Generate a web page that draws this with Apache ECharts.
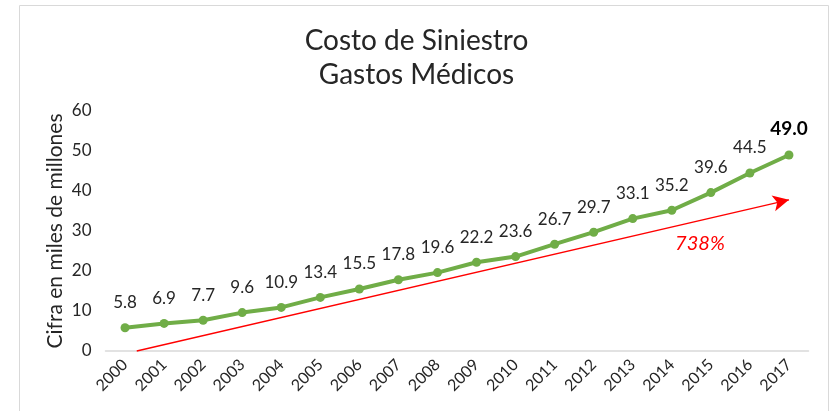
<!DOCTYPE html>
<html>
<head>
<meta charset="utf-8">
<script src="https://cdn.jsdelivr.net/npm/echarts@6/dist/echarts.min.js"></script>
<style>
  html, body { margin: 0; padding: 0; background: #fff; }
  #main { width: 833px; height: 411px; }
</style>
</head>
<body>
<div id="main"></div>
<script>
// años y costo (miles de millones)
var years = ['2000', '2001', '2002', '2003', '2004', '2005', '2006', '2007', '2008',
  '2009', '2010', '2011', '2012', '2013', '2014', '2015', '2016', '2017']
var costo = [5.8, 6.9, 7.7, 9.6, 10.9, 13.4, 15.5, 17.8, 19.6,
  22.2, 23.6, 26.7, 29.7, 33.1, 35.2, 39.6, 44.5, 49.0]
// flecha de crecimiento (índice de año, valor)
var flecha = [[0.3, 0], [17, 37.8]]
var crecimiento = '738%'
var crecimientoPos = [14.72, 26.8]

var font = 'Lato, "Open Sans", sans-serif'
var chart = echarts.init(document.getElementById('main'))

chart.setOption({
  animation: false,
  textStyle: { fontFamily: font },
  title: {
    text: 'Costo de Siniestro\nGastos Médicos',
    left: 'center',
    top: 19,
    textStyle: { fontFamily: font, fontSize: 28, fontWeight: 'normal', color: '#262626', lineHeight: 34 }
  },
  graphic: [{
    type: 'rect',
    shape: { x: 19.5, y: 5.5, width: 809, height: 430 },
    style: { fill: 'none', stroke: '#d9d9d9', lineWidth: 1 },
    silent: true
  }],
  grid: { left: 105.5, right: 24.5, top: 111, bottom: 60 },
  xAxis: [{
    type: 'category',
    data: years,
    axisLine: { lineStyle: { color: '#d9d9d9', width: 1.5 } },
    axisTick: { show: false },
    axisLabel: { rotate: 45, color: '#262626', fontSize: 16, fontFamily: font, margin: 11 }
  }, {
    type: 'value',
    min: -0.5,
    max: 17.5,
    show: false
  }],
  yAxis: {
    type: 'value',
    min: 0,
    max: 60,
    interval: 10,
    name: 'Cifra en miles de millones',
    nameLocation: 'middle',
    nameGap: 40,
    nameMoveOverlap: false,
    nameTextStyle: { fontSize: 21, color: '#262626', fontFamily: font },
    axisLine: { show: false },
    axisTick: { show: false },
    splitLine: { show: false },
    axisLabel: { color: '#262626', fontSize: 17, fontFamily: font, margin: 14 }
  },
  series: [{
    type: 'line',
    data: costo.map(function (v, i) {
      if (i === costo.length - 1) {
        return { value: v, label: { fontWeight: 'bold', fontSize: 19, color: '#000' } }
      }
      return v
    }),
    symbol: 'circle',
    symbolSize: 9,
    lineStyle: { color: '#70ad47', width: 4 },
    itemStyle: { color: '#70ad47' },
    label: {
      show: true,
      position: 'top',
      distance: 12,
      fontSize: 17,
      color: '#262626',
      fontFamily: font,
      formatter: function (p) { return p.value.toFixed(1) }
    },
    z: 3
  }, {
    type: 'line',
    xAxisIndex: 1,
    data: [],
    clip: false,
    markLine: {
      silent: true,
      symbol: ['none', 'arrow'],
      symbolSize: [12, 16],
      label: { show: false },
      lineStyle: { color: '#ff0000', width: 1.3, type: 'solid' },
      data: [[{ coord: flecha[0] }, { coord: flecha[1] }]]
    },
    markPoint: {
      silent: true,
      symbol: 'circle',
      symbolSize: 0,
      label: {
        show: true,
        formatter: crecimiento,
        color: '#ff0000',
        fontStyle: 'italic',
        fontSize: 20,
        fontFamily: font
      },
      data: [{ coord: crecimientoPos }]
    }
  }]
})
</script>
</body>
</html>
